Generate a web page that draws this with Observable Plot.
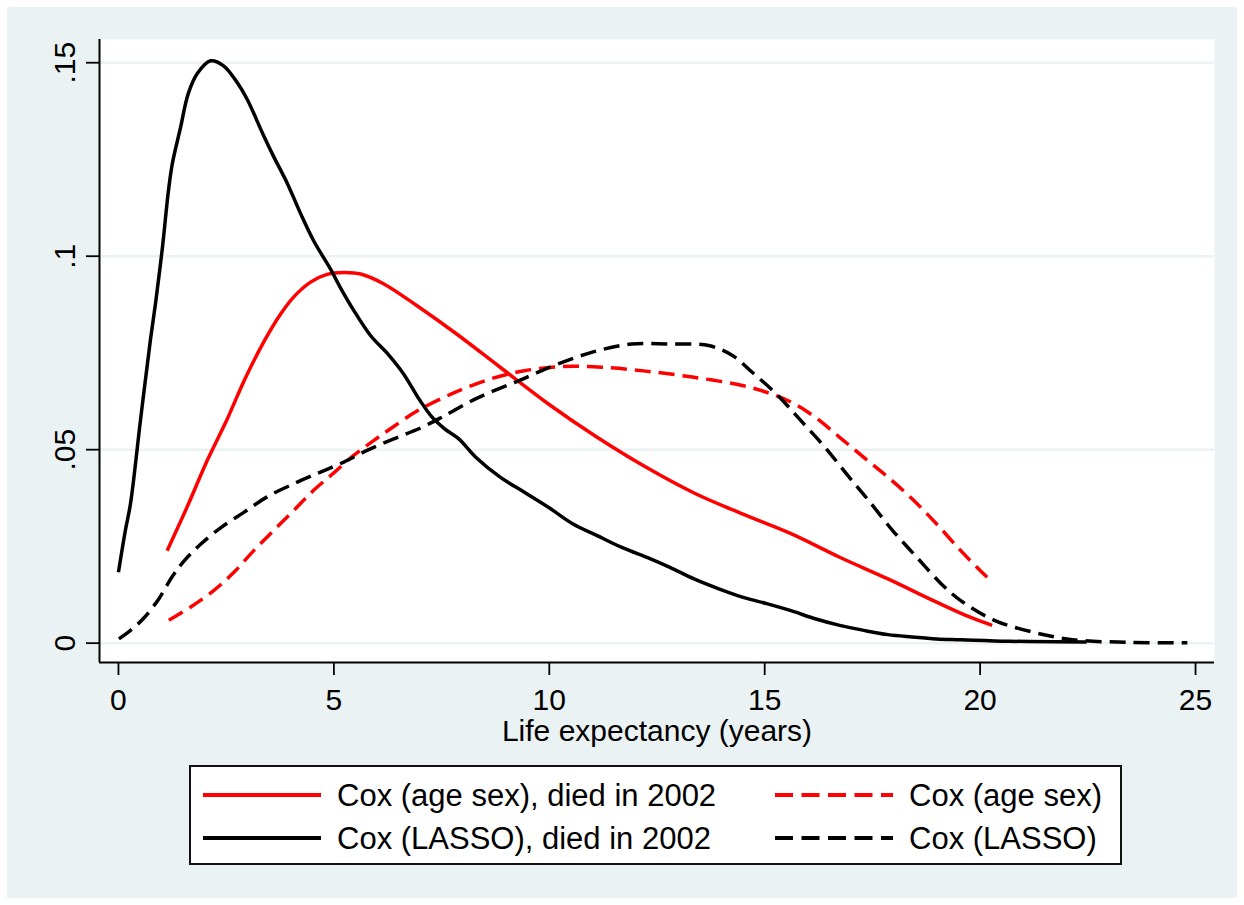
<!DOCTYPE html>
<html>
<head>
<meta charset="utf-8">
<script src="https://cdn.jsdelivr.net/npm/d3@7"></script>
<script src="https://cdn.jsdelivr.net/npm/@observablehq/plot@0.6"></script>
<style>
  html, body { margin: 0; padding: 0; background: #ffffff; }
  #fig { position: absolute; left: 7px; top: 7px; width: 1230px; height: 891px; background: #EAF2F3;
         font-family: "Liberation Sans", Arial, sans-serif; }
  #chart { position: absolute; left: 0; top: 0; }
  #legend { position: absolute; left: 182px; top: 758px; width: 929px; height: 96px;
            background: #ffffff; border: 2px solid #111; }
  .item-line { position: absolute; }
  .item-text { position: absolute; font-size: 31px; line-height: 31px; color: #000; white-space: nowrap; }
</style>
</head>
<body>
<div id="fig">
  <div id="chart"></div>
  <div id="legend"></div>
</div>
<script>
// ---- data ----
const xTicks = [0, 5, 10, 15, 20, 25];
const yTicks = [0, 0.05, 0.1, 0.15];
const yTickLabels = ["0", ".05", ".1", ".15"];
const xDomain = [-0.44, 25.44];
const yDomain = [-0.005, 0.156];
const xTitle = "Life expectancy (years)";

// Cox (age sex), died in 2002  (red solid)
const coxAgeSexDied = [[1.13,0.0239],[1.59,0.0351],[2.06,0.0472],[2.52,0.0578],[2.92,0.0679],[3.37,0.0778],[3.76,0.0850],[4.07,0.0895],[4.46,0.0933],[4.84,0.0953],[5.23,0.0958],[5.62,0.0954],[6.15,0.0929],[6.93,0.0872],[7.85,0.0799],[8.86,0.0713],[9.98,0.0618],[11.11,0.0532],[12.24,0.0455],[13.36,0.0388],[14.48,0.0334],[15.61,0.0283],[16.74,0.0222],[17.86,0.0166],[18.99,0.0106],[19.77,0.0067],[20.28,0.0046]];

// Cox (age sex)  (red dashed)
const coxAgeSex = [[1.17,0.0059],[1.67,0.0093],[2.21,0.0136],[2.68,0.0183],[3.14,0.0239],[3.60,0.0291],[4.07,0.0343],[4.53,0.0395],[5.00,0.0440],[5.46,0.0485],[5.93,0.0524],[6.39,0.0560],[6.95,0.0601],[7.73,0.0644],[8.64,0.0683],[9.42,0.0704],[10.32,0.0715],[11.22,0.0713],[12.24,0.0703],[13.36,0.0687],[14.48,0.0666],[15.05,0.0648],[15.61,0.0623],[16.17,0.0584],[16.74,0.0532],[17.30,0.0480],[17.86,0.0429],[18.42,0.0373],[18.99,0.0308],[19.55,0.0239],[20.00,0.0188],[20.28,0.0158]];

// Cox (LASSO), died in 2002  (black solid)
const coxLassoDied = [[0,0.0183],[0.16,0.0291],[0.28,0.0361],[0.51,0.0575],[0.74,0.0782],[0.86,0.0878],[1.02,0.1022],[1.16,0.1169],[1.25,0.1239],[1.44,0.1332],[1.62,0.1420],[1.83,0.1472],[2.14,0.1505],[2.44,0.1492],[2.76,0.1448],[2.99,0.1405],[3.36,0.1314],[3.60,0.1258],[3.92,0.1188],[4.22,0.1112],[4.53,0.1040],[4.92,0.0967],[5.15,0.0919],[5.45,0.0862],[5.85,0.0795],[6.27,0.0745],[6.61,0.0697],[7.00,0.0627],[7.28,0.0584],[7.57,0.0554],[7.90,0.0528],[8.30,0.0480],[8.86,0.0429],[9.42,0.0390],[9.98,0.0351],[10.55,0.0308],[11.11,0.0278],[11.67,0.0248],[12.35,0.0218],[12.80,0.0196],[13.36,0.0166],[13.92,0.0141],[14.48,0.0119],[15.05,0.0102],[15.61,0.0084],[16.17,0.0063],[16.74,0.0046],[17.30,0.0033],[17.86,0.0022],[18.42,0.0016],[18.99,0.0011],[19.55,0.0009],[20.67,0.0005],[22.47,0.0003]];

// Cox (LASSO)  (black dashed)
const coxLasso = [[0.01,0.0011],[0.28,0.0033],[0.59,0.0065],[0.94,0.0115],[1.25,0.0172],[1.52,0.0212],[1.90,0.0255],[2.37,0.0298],[2.91,0.0338],[3.45,0.0378],[4.15,0.0416],[4.69,0.0442],[5.23,0.0468],[5.77,0.0498],[6.39,0.0528],[7.01,0.0556],[7.51,0.0584],[8.30,0.0632],[9.20,0.0674],[10.10,0.0717],[11.00,0.0752],[11.90,0.0773],[12.80,0.0773],[13.70,0.0769],[14.26,0.0743],[14.71,0.0700],[15.27,0.0644],[15.84,0.0575],[16.40,0.0506],[16.96,0.0429],[17.41,0.0369],[17.97,0.0291],[18.53,0.0222],[19.10,0.0153],[19.55,0.0110],[20.33,0.0059],[21.24,0.0028],[22.14,0.0009],[23.49,0.0002],[24.81,0.0001]];

// legend entries (row-major: 2 columns)
const seriesLabels = ["Cox (age sex), died in 2002", "Cox (age sex)", "Cox (LASSO), died in 2002", "Cox (LASSO)"];
const seriesColors = ["#ff0000", "#ff0000", "#000000", "#000000"];
const seriesDashed = [false, true, false, true];
const seriesData = [coxAgeSexDied, coxAgeSex, coxLassoDied, coxLasso];

const DASH = "16,8";

const lineMarks = seriesData.map((d, i) => Plot.line(d, {
  x: p => p[0], y: p => p[1],
  stroke: seriesColors[i], strokeWidth: 3.5,
  strokeDasharray: seriesDashed[i] ? DASH : null,
  curve: "catmull-rom", strokeLinejoin: "round", strokeLinecap: "butt"
}));

const chart = Plot.plot({
  width: 1230,
  height: 760,
  marginLeft: 92,
  marginRight: 23,
  marginTop: 32,
  marginBottom: 105,
  style: { background: "transparent", fontFamily: "'Liberation Sans', Arial, sans-serif", fontSize: "30px", color: "#000" },
  x: { domain: xDomain },
  y: { domain: yDomain },
  marks: [
    Plot.frame({ fill: "#ffffff", stroke: null }),
    Plot.gridY(yTicks, { stroke: "#EAF2F3", strokeOpacity: 1, strokeWidth: 2.5 }),
    ...lineMarks,
    Plot.ruleX([xDomain[0]], { stroke: "#000", strokeWidth: 2 }),
    Plot.ruleY([yDomain[0]], { stroke: "#000", strokeWidth: 2 }),
    Plot.axisX(xTicks, { tickSize: 13, tickPadding: 13, strokeWidth: 1.8, fontSize: 30,
      label: xTitle, labelAnchor: "center", labelArrow: "none", labelOffset: 78 }),
    Plot.axisY(yTicks, { tickSize: 13, tickPadding: 12, strokeWidth: 1.8, fontSize: 30,
      tickRotate: -90, tickFormat: d => yTickLabels[yTicks.indexOf(d)], label: null })
  ]
});
document.getElementById("chart").appendChild(chart);

// legend
const legend = document.getElementById("legend");
seriesLabels.forEach((lab, i) => {
  const col = i % 2, row = Math.floor(i / 2);
  const cy = 28 + row * 43;
  const lx = 12 + col * 572;
  const svgNS = "http://www.w3.org/2000/svg";
  const s = document.createElementNS(svgNS, "svg");
  s.setAttribute("width", 118); s.setAttribute("height", 10);
  s.setAttribute("class", "item-line");
  s.style.left = lx + "px"; s.style.top = (cy - 5) + "px";
  const ln = document.createElementNS(svgNS, "line");
  ln.setAttribute("x1", 0); ln.setAttribute("x2", 118);
  ln.setAttribute("y1", 5); ln.setAttribute("y2", 5);
  ln.setAttribute("stroke", seriesColors[i]); ln.setAttribute("stroke-width", 4);
  if (seriesDashed[i]) ln.setAttribute("stroke-dasharray", "18,8.5");
  s.appendChild(ln);
  legend.appendChild(s);
  const t = document.createElement("div");
  t.className = "item-text";
  t.textContent = lab;
  t.style.left = (lx + 134) + "px";
  t.style.top = (cy - 15) + "px";
  legend.appendChild(t);
});
</script>
</body>
</html>
